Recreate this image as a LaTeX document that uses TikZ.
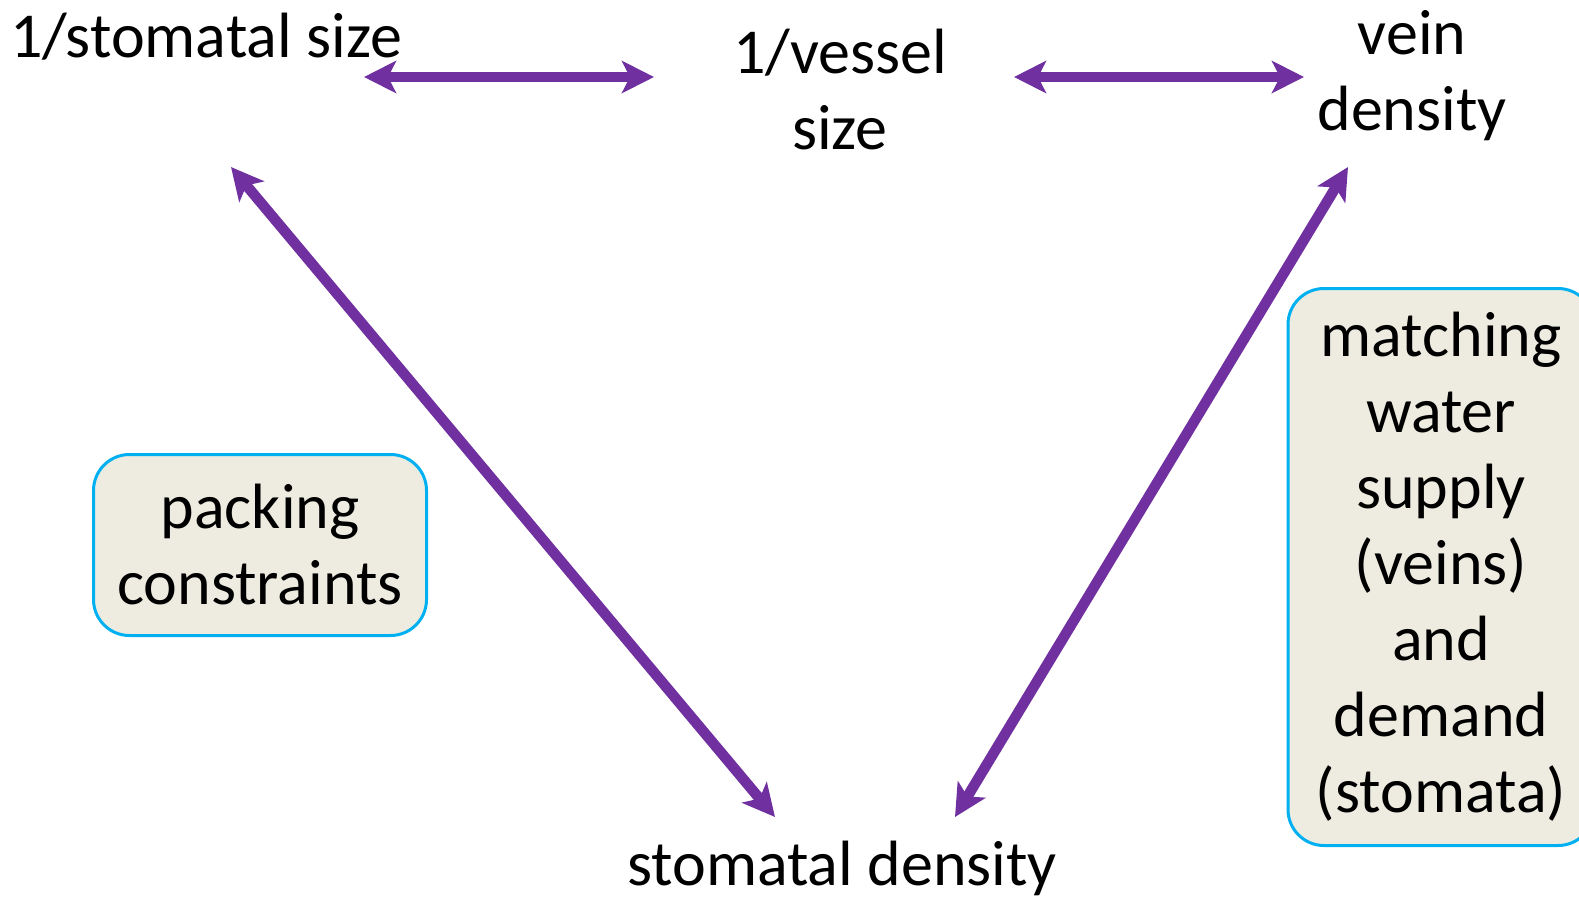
\documentclass[tikz,border=0pt]{standalone}
\usepackage{fontspec}
\setmainfont{Carlito}
\usetikzlibrary{arrows.meta}
\definecolor{linkpurple}{HTML}{7030A0}
\definecolor{boxfill}{HTML}{EEECE1}
\definecolor{boxline}{HTML}{00B0F0}
\begin{document}
\begin{tikzpicture}[x=1pt,y=-1pt,
  label/.style={inner sep=0pt, align=center, font=\fontsize{64}{76}\selectfont},
  notebox/.style={draw=boxline, line width=3pt, fill=boxfill, rounded corners=36pt,
    inner sep=0pt, align=center, font=\fontsize{64}{76}\selectfont},
  link/.style={draw=linkpurple, line width=10.5pt,
    {Stealth[length=32pt,width=32pt,inset=8pt]}-{Stealth[length=32pt,width=32pt,inset=8pt]}}]
\useasboundingbox (0,0) rectangle (1579,898);
\begin{scope}
\clip (0,0) rectangle (1579,898);
% trait labels
\node[label] (ss) at (206,37) {1/stomatal size};
\node[label] (vs) at (840,90) {1/vessel\\size};
\node[label] (vd) at (1412,76) {vein\\density};
\node[label] (sd) at (842,868) {stomatal density};
% explanatory boxes
\node[notebox, minimum width=333pt, minimum height=181pt] (pk) at (260,545) {packing\\constraints};
\node[notebox, minimum width=306pt, minimum height=557pt] (mt) at (1441,567) {matching\\water\\supply\\(veins)\\and\\demand\\(stomata)};
% arrow end points
\coordinate (ssR) at (364,77);
\coordinate (vsL) at (654,77);
\coordinate (vsR) at (1014,77);
\coordinate (vdL) at (1304,77);
\coordinate (ssD) at (231,167);
\coordinate (vdD) at (1348,167);
\coordinate (sdL) at (775,817);
\coordinate (sdR) at (955,817);
% correlations
\draw[link] (ssR) -- (vsL);
\draw[link] (vsR) -- (vdL);
\draw[link] (ssD) -- (sdL);
\draw[link] (vdD) -- (sdR);
\end{scope}
\end{tikzpicture}
\end{document}
